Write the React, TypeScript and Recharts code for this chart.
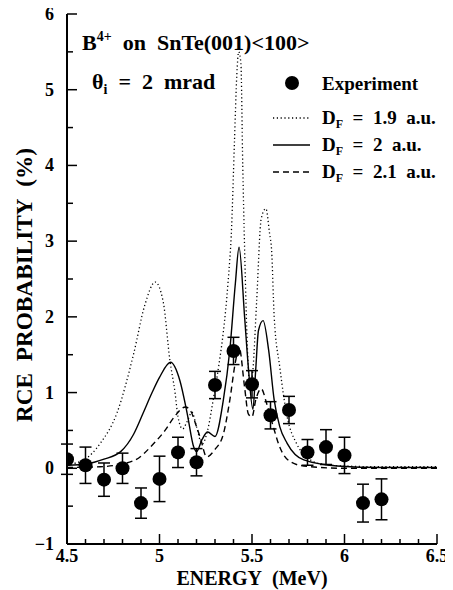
import React from "react";
import {
  ComposedChart,
  Line,
  Scatter,
  ErrorBar,
  XAxis,
  YAxis,
} from "recharts";

// experiment: energy (MeV), probability (%), error
const expEnergy = [4.5, 4.6, 4.7, 4.8, 4.9, 5.0, 5.1, 5.2, 5.3, 5.4, 5.5, 5.6, 5.7, 5.8, 5.9, 6.0, 6.1, 6.2];
const expProb = [0.12, 0.04, -0.15, 0.0, -0.46, -0.14, 0.21, 0.08, 1.1, 1.55, 1.11, 0.7, 0.77, 0.21, 0.28, 0.17, -0.46, -0.41];
const expErr = [0.2, 0.24, 0.22, 0.2, 0.2, 0.3, 0.2, 0.18, 0.18, 0.18, 0.18, 0.18, 0.18, 0.17, 0.23, 0.24, 0.25, 0.27];

// D_F = 1.9 a.u. (dotted)
const df19E = [4.5, 4.59, 4.68, 4.77, 4.86, 4.92, 4.977, 5.02, 5.056, 5.084, 5.1, 5.125, 5.15, 5.175, 5.2, 5.23, 5.26, 5.29, 5.32, 5.345, 5.37, 5.39, 5.405, 5.418, 5.428, 5.44, 5.45, 5.46, 5.475, 5.49, 5.505, 5.525, 5.55, 5.575, 5.595, 5.606, 5.62, 5.65, 5.69, 5.74, 5.8, 5.87, 6.0, 6.2, 6.5];
const df19P = [0.05, 0.11, 0.33, 0.73, 1.51, 2.15, 2.46, 2.2, 1.43, 1.0, 0.68, 0.52, 0.62, 0.74, 0.55, 0.32, 0.5, 0.9, 1.35, 1.8, 2.44, 3.2, 4.3, 5.2, 5.5, 5.35, 4.0, 2.9, 1.6, 1.05, 1.3, 2.2, 3.3, 3.43, 3.1, 2.88, 2.0, 1.34, 0.68, 0.33, 0.14, 0.06, 0.03, 0.02, 0.02];

// D_F = 2 a.u. (solid)
const df20E = [4.5, 4.61, 4.7, 4.79, 4.86, 4.91, 4.96, 5.0, 5.06, 5.11, 5.15, 5.185, 5.2, 5.23, 5.26, 5.3, 5.345, 5.38, 5.41, 5.43, 5.46, 5.48, 5.505, 5.52, 5.535, 5.56, 5.59, 5.62, 5.65, 5.69, 5.78, 5.96, 6.2, 6.5];
const df20P = [0.04, 0.06, 0.12, 0.22, 0.45, 0.72, 1.0, 1.2, 1.4, 1.16, 0.72, 0.28, 0.22, 0.38, 0.48, 0.42, 0.9, 1.56, 2.44, 2.92, 2.0, 1.34, 0.78, 1.3, 1.82, 1.95, 1.56, 0.9, 0.55, 0.33, 0.11, 0.03, 0.01, 0.01];

// D_F = 2.1 a.u. (dashed)
const df21E = [4.5, 4.68, 4.86, 4.97, 5.03, 5.08, 5.14, 5.17, 5.2, 5.22, 5.255, 5.3, 5.345, 5.38, 5.41, 5.43, 5.46, 5.48, 5.5, 5.52, 5.55, 5.58, 5.615, 5.65, 5.7, 5.78, 6.0, 6.5];
const df21P = [0.01, 0.02, 0.1, 0.33, 0.5, 0.68, 0.81, 0.75, 0.55, 0.41, 0.15, 0.25, 0.45, 0.9, 1.4, 1.6, 1.07, 0.72, 0.68, 0.9, 1.05, 0.85, 0.55, 0.28, 0.1, 0.03, 0.0, 0.0];

const xTicks = [4.5, 4.6, 4.7, 4.8, 4.9, 5, 5.1, 5.2, 5.3, 5.4, 5.5, 5.6, 5.7, 5.8, 5.9, 6, 6.1, 6.2, 6.3, 6.4, 6.5];
const xTickLabels: Record<string, string> = { "4.5": "4.5", "5": "5", "5.5": "5.5", "6": "6", "6.5": "6.5" };
const yTicks = [-1, -0.5, 0, 0.5, 1, 1.5, 2, 2.5, 3, 3.5, 4, 4.5, 5, 5.5, 6];
const yTickLabels: Record<string, string> = { "-1": "\u22121", "0": "0", "1": "1", "2": "2", "3": "3", "4": "4", "5": "5", "6": "6" };

const zip = (xs: number[], ys: number[]) => xs.map((x, i) => ({ x, y: ys[i] }));
const expData = expEnergy.map((x, i) => ({ x, y: expProb[i], err: expErr[i] }));
const df19 = zip(df19E, df19P);
const df20 = zip(df20E, df20P);
const df21 = zip(df21E, df21P);

const FONT = "'Liberation Serif', 'Times New Roman', serif";
const SP = "\u00a0";
const sp2 = (s: string) => s.replace(/ /g, SP + SP);

const BottomTick = (props: any) => {
  const { x, y, payload } = props;
  const label = xTickLabels[String(payload.value)];
  return (
    <g>
      <line x1={x} x2={x} y1={y} y2={y - (label ? 10 : 5)} stroke="#000" strokeWidth={1.5} />
      {label && (
        <text x={x} y={y + 18} textAnchor="middle" fontFamily={FONT} fontWeight="bold" fontSize={18} fill="#000">
          {label}
        </text>
      )}
    </g>
  );
};

const TopTick = (props: any) => {
  const { x, y, payload } = props;
  const major = xTickLabels[String(payload.value)];
  return <line x1={x} x2={x} y1={y} y2={y + (major ? 10 : 5)} stroke="#000" strokeWidth={1.5} />;
};

const LeftTick = (props: any) => {
  const { x, y, payload } = props;
  const label = yTickLabels[String(payload.value)];
  return (
    <g>
      <line x1={x} x2={x + (label ? 10 : 6)} y1={y} y2={y} stroke="#000" strokeWidth={1.5} />
      {label && (
        <text x={x - 13} y={y + 6} textAnchor="end" fontFamily={FONT} fontWeight="bold" fontSize={18} fill="#000">
          {label}
        </text>
      )}
    </g>
  );
};

const RightTick = (props: any) => {
  const { x, y, payload } = props;
  const major = yTickLabels[String(payload.value)];
  return <line x1={x} x2={x - (major ? 10 : 6)} y1={y} y2={y} stroke="#000" strokeWidth={1.5} />;
};

const Dot = (props: any) => <circle cx={props.cx} cy={props.cy} r={7} fill="#000" />;

export default function App() {
  return (
    <div style={{ position: "relative", width: 445, height: 582 }}>
      <style>{".recharts-surface{overflow:visible}"}</style>
      <ComposedChart width={445} height={582} margin={{ top: 6, right: 16, bottom: 0, left: 0 }}>
        <XAxis
          dataKey="x"
          type="number"
          domain={[4.5, 6.5]}
          ticks={xTicks}
          interval={0}
          height={46}
          tickSize={0}
          tickMargin={0}
          tick={<BottomTick />}
          axisLine={{ stroke: "#000", strokeWidth: 2 }}
          allowDataOverflow
        />
        <XAxis
          xAxisId="top"
          orientation="top"
          dataKey="x"
          type="number"
          domain={[4.5, 6.5]}
          ticks={xTicks}
          interval={0}
          height={0}
          tickSize={0}
          tickMargin={0}
          tick={<TopTick />}
          axisLine={{ stroke: "#000", strokeWidth: 2 }}
        />
        <YAxis
          type="number"
          domain={[-1, 6]}
          ticks={yTicks}
          interval={0}
          width={59}
          tickSize={0}
          tickMargin={0}
          tick={<LeftTick />}
          axisLine={{ stroke: "#000", strokeWidth: 2 }}
          allowDataOverflow
        />
        <YAxis
          yAxisId="right"
          orientation="right"
          type="number"
          domain={[-1, 6]}
          ticks={yTicks}
          interval={0}
          width={0}
          tickSize={0}
          tickMargin={0}
          tick={<RightTick />}
          axisLine={{ stroke: "#000", strokeWidth: 2 }}
        />
        <Line data={df19} dataKey="y" type="monotone" stroke="#000" strokeWidth={1.3} strokeDasharray="1.2 2.6" dot={false} isAnimationActive={false} />
        <Line data={df20} dataKey="y" type="monotone" stroke="#000" strokeWidth={1.4} dot={false} isAnimationActive={false} />
        <Line data={df21} dataKey="y" type="monotone" stroke="#000" strokeWidth={1.4} strokeDasharray="6 4" dot={false} isAnimationActive={false} />
        <Scatter data={expData} dataKey="y" shape={<Dot />} isAnimationActive={false}>
          <ErrorBar dataKey="err" direction="y" width={6} stroke="#000" strokeWidth={1.5} />
        </Scatter>
      </ComposedChart>
      <svg
        width={453}
        height={590}
        style={{ position: "absolute", left: -8, top: -8, pointerEvents: "none" }}
        fontFamily={FONT}
        fontWeight="bold"
      >
        <text x={82} y={50} fontSize={22}>
          B<tspan fontSize={14} dy={-9}>4+</tspan>
          <tspan dy={9}>{sp2(" on SnTe(001)<100>")}</tspan>
        </text>
        <text x={92} y={89} fontSize={22}>
          {"\u03b8"}<tspan fontSize={14} dy={5}>i</tspan>
          <tspan dy={-5}>{sp2(" = 2 mrad")}</tspan>
        </text>
        <circle cx={292} cy={83} r={7} fill="#000" />
        <text x={322} y={90} fontSize={19}>Experiment</text>
        <line x1={273} x2={310} y1={118} y2={118} stroke="#000" strokeWidth={1.3} strokeDasharray="1.2 2.6" />
        <line x1={273} x2={310} y1={145} y2={145} stroke="#000" strokeWidth={1.4} />
        <line x1={273} x2={310} y1={172} y2={172} stroke="#000" strokeWidth={1.4} strokeDasharray="6 4" />
        {[
          { y: 124, v: "1.9" },
          { y: 151, v: "2" },
          { y: 178, v: "2.1" },
        ].map((r) => (
          <text key={r.v} x={322} y={r.y} fontSize={19}>
            D<tspan fontSize={12} dy={4}>F</tspan>
            <tspan dy={-4}>{sp2(` = ${r.v} a.u.`)}</tspan>
          </text>
        ))}
        <text
          x={24}
          y={285}
          fontSize={23}
          textAnchor="middle"
          transform="rotate(-90 24 285)"
          dy={8}
          textLength={274}
          lengthAdjust="spacingAndGlyphs"
        >
          {sp2("RCE PROBABILITY (%)")}
        </text>
        <text x={252} y={585} fontSize={20} textAnchor="middle">
          {sp2("ENERGY (MeV)")}
        </text>
      </svg>
    </div>
  );
}
